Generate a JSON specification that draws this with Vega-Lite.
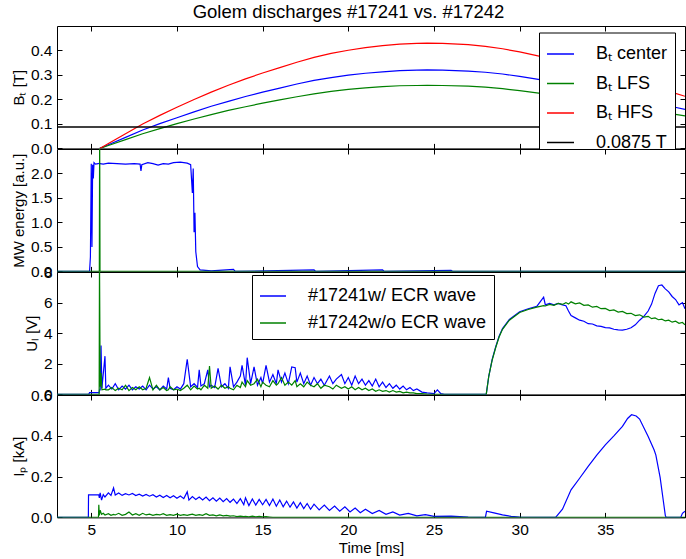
{
"$schema": "https://vega.github.io/schema/vega-lite/v6.json",
"autosize": {"type": "pad"},
"padding": {"left": 10, "top": 3, "right": 0, "bottom": 0},
"background": "white",
"title": {"text": "Golem discharges #17241 vs. #17242", "font": "Liberation Sans", "fontSize": 18.5, "fontWeight": "normal", "color": "black", "anchor": "middle", "offset": 3.5},
"spacing": 0,
"bounds": "flush",
"config": {
  "font": "Liberation Sans",
  "view": {"stroke": "black", "strokeWidth": 1, "fill": "white"},
  "axis": {"grid": false, "domain": false, "ticks": true, "tickSize": -5, "tickColor": "black", "tickWidth": 1, "labelPadding": 10, "labelFont": "Liberation Sans", "labelFontSize": 15.5, "labelColor": "black", "titleFont": "Liberation Sans", "titleFontSize": 15, "titleFontWeight": "normal", "titleColor": "black", "labelFlush": false, "labelOverlap": false, "titlePadding": 4},
  "legend": {"orient": "none", "title": null, "symbolType": "stroke", "symbolStrokeWidth": 1.5, "labelFont": "Liberation Sans", "labelFontSize": 18, "labelColor": "black", "labelOffset": 21, "labelLimit": 400, "padding": 7, "strokeColor": "black", "fillColor": "white", "cornerRadius": 0}
},
"datasets": {
  "ghost": [{"t": 5, "v": 0}],
  "ref": [{"t": 3, "v": 0.0875, "s": "r"}, {"t": 39.65, "v": 0.0875, "s": "r"}],
  "bt": [
    {"t":5.5,"c":0,"l":0,"h":0},
    {"t":6,"c":0.015,"l":0.012,"h":0.02},
    {"t":7,"c":0.045,"l":0.036,"h":0.06},
    {"t":8,"c":0.075,"l":0.06,"h":0.10},
    {"t":9,"c":0.101,"l":0.081,"h":0.135},
    {"t":10,"c":0.125,"l":0.101,"h":0.168},
    {"t":11,"c":0.149,"l":0.12,"h":0.2},
    {"t":12,"c":0.172,"l":0.138,"h":0.23},
    {"t":13,"c":0.192,"l":0.155,"h":0.258},
    {"t":14,"c":0.212,"l":0.17,"h":0.284},
    {"t":15,"c":0.23,"l":0.185,"h":0.308},
    {"t":16,"c":0.246,"l":0.198,"h":0.33},
    {"t":17,"c":0.263,"l":0.211,"h":0.352},
    {"t":18,"c":0.278,"l":0.223,"h":0.372},
    {"t":19,"c":0.289,"l":0.233,"h":0.388},
    {"t":20,"c":0.299,"l":0.241,"h":0.401},
    {"t":21,"c":0.307,"l":0.247,"h":0.412},
    {"t":22,"c":0.313,"l":0.252,"h":0.42},
    {"t":23,"c":0.318,"l":0.256,"h":0.426},
    {"t":24,"c":0.32,"l":0.257,"h":0.429},
    {"t":24.6,"c":0.321,"l":0.258,"h":0.43},
    {"t":25.5,"c":0.32,"l":0.257,"h":0.429},
    {"t":27,"c":0.316,"l":0.254,"h":0.424},
    {"t":28,"c":0.311,"l":0.25,"h":0.417},
    {"t":29,"c":0.304,"l":0.244,"h":0.407},
    {"t":30,"c":0.294,"l":0.236,"h":0.394},
    {"t":31,"c":0.283,"l":0.227,"h":0.379},
    {"t":32,"c":0.271,"l":0.218,"h":0.363},
    {"t":33,"c":0.258,"l":0.208,"h":0.346},
    {"t":34,"c":0.245,"l":0.197,"h":0.328},
    {"t":35,"c":0.231,"l":0.186,"h":0.309},
    {"t":36,"c":0.216,"l":0.174,"h":0.289},
    {"t":37,"c":0.201,"l":0.163,"h":0.269},
    {"t":38,"c":0.185,"l":0.152,"h":0.248},
    {"t":39,"c":0.169,"l":0.14,"h":0.227},
    {"t":39.65,"c":0.159,"l":0.133,"h":0.213}
  ],
  "mw": [
    {"t":3,"b":0,"g":0},{"t":4.9,"b":0,"g":0},{"t":4.95,"b":0.3,"g":0},{"t":5.0,"b":2.2,"g":0},{"t":5.04,"b":0.5,"g":0},
    {"t":5.08,"b":2.18,"g":0},{"t":5.12,"b":1.9,"g":0},{"t":5.16,"b":2.22,"g":0},{"t":5.25,"b":2.19,"g":0},{"t":5.4,"b":2.2,"g":0},
    {"t":5.47,"b":2.21,"g":0},{"t":5.49,"b":2.2,"g":3.0},{"t":5.51,"b":2.2,"g":0},{"t":5.7,"b":2.19,"g":0},{"t":6.0,"b":2.21,"g":0},
    {"t":6.5,"b":2.2,"g":0},{"t":7.0,"b":2.19,"g":0},{"t":7.5,"b":2.2,"g":0},{"t":7.85,"b":2.19,"g":0},{"t":7.9,"b":2.05,"g":0},
    {"t":7.95,"b":2.18,"g":0},{"t":8.3,"b":2.22,"g":0},{"t":8.6,"b":2.2,"g":0},{"t":8.9,"b":2.17,"g":0},{"t":9.2,"b":2.2,"g":0},
    {"t":9.5,"b":2.19,"g":0},{"t":9.8,"b":2.22,"g":0},{"t":10.2,"b":2.23,"g":0},{"t":10.6,"b":2.21,"g":0},{"t":10.8,"b":2.18,"g":0},
    {"t":10.9,"b":1.6,"g":0},{"t":10.95,"b":2.1,"g":0},{"t":11.0,"b":0.8,"g":0},{"t":11.05,"b":1.2,"g":0},{"t":11.1,"b":0.4,"g":0},
    {"t":11.2,"b":0.1,"g":0},{"t":11.35,"b":0.03,"g":0},{"t":12,"b":0.01,"g":0},{"t":13.3,"b":0.04,"g":0},{"t":13.4,"b":0.0,"g":0},
    {"t":18,"b":0.03,"g":0},{"t":18.1,"b":0.0,"g":0},{"t":22,"b":0.03,"g":0},{"t":22.1,"b":0.0,"g":0},{"t":26,"b":0.02,"g":0},
    {"t":26.1,"b":0.0,"g":0},{"t":39.65,"b":0,"g":0}
  ],
  "ul": [
    {"t":3,"b":0,"g":0},{"t":4.85,"b":0,"g":0},{"t":4.9,"b":0.12,"g":0},{"t":5.46,"b":0.12,"g":0},{"t":5.48,"b":0.3,"g":9},
    {"t":5.52,"b":0.3,"g":0.5},{"t":5.57,"b":3.2,"g":1.4},{"t":5.62,"b":0.4,"g":0.3},{"t":5.8,"b":2.5,"g":0.35},{"t":5.85,"b":0.4,"g":0.3},
    {"t":6.0,"b":0.6,"g":0.3},{"t":6.2,"b":0.35,"g":0.45},{"t":6.4,"b":0.7,"g":0.25},{"t":6.6,"b":0.3,"g":0.4},{"t":6.8,"b":0.55,"g":0.3},
    {"t":7.0,"b":0.35,"g":0.6},{"t":7.2,"b":0.6,"g":0.25},{"t":7.4,"b":0.3,"g":0.45},{"t":7.6,"b":0.5,"g":0.3},{"t":7.8,"b":0.35,"g":0.5},
    {"t":8.0,"b":0.55,"g":0.3},{"t":8.2,"b":0.3,"g":0.4},{"t":8.4,"b":0.6,"g":1.1},{"t":8.6,"b":0.35,"g":0.3},{"t":8.8,"b":0.5,"g":0.6},
    {"t":9.0,"b":0.3,"g":0.3},{"t":9.2,"b":0.55,"g":0.45},{"t":9.4,"b":0.35,"g":0.25},{"t":9.5,"b":1.1,"g":0.3},{"t":9.6,"b":0.4,"g":0.5},
    {"t":9.8,"b":0.3,"g":0.3},{"t":10.0,"b":0.5,"g":0.35},{"t":10.2,"b":0.35,"g":0.25},{"t":10.4,"b":0.7,"g":0.4},{"t":10.6,"b":2.3,"g":0.6},
    {"t":10.8,"b":0.5,"g":0.3},{"t":11.0,"b":0.7,"g":0.55},{"t":11.2,"b":0.45,"g":0.35},{"t":11.3,"b":1.6,"g":0.4},{"t":11.4,"b":0.55,"g":0.3},
    {"t":11.6,"b":0.7,"g":0.6},{"t":11.8,"b":1.6,"g":0.4},{"t":11.9,"b":0.5,"g":1.85},{"t":12.0,"b":0.6,"g":0.4},{"t":12.2,"b":0.45,"g":0.55},
    {"t":12.4,"b":1.7,"g":0.35},{"t":12.6,"b":0.5,"g":0.6},{"t":12.8,"b":0.7,"g":0.4},{"t":13.0,"b":0.4,"g":0.5},{"t":13.1,"b":1.8,"g":0.4},
    {"t":13.3,"b":0.5,"g":0.3},{"t":13.5,"b":0.8,"g":0.6},{"t":13.7,"b":1.2,"g":0.45},{"t":13.8,"b":1.9,"g":0.8},{"t":14.0,"b":0.6,"g":0.5},
    {"t":14.1,"b":2.4,"g":0.9},{"t":14.3,"b":0.7,"g":0.6},{"t":14.5,"b":1.8,"g":0.7},{"t":14.7,"b":0.6,"g":1.0},{"t":14.9,"b":1.1,"g":0.5},
    {"t":15.0,"b":0.7,"g":0.8},{"t":15.2,"b":1.9,"g":0.6},{"t":15.4,"b":0.8,"g":0.5},{"t":15.6,"b":1.3,"g":0.9},{"t":15.8,"b":0.7,"g":0.6},
    {"t":15.9,"b":1.6,"g":0.7},{"t":16.1,"b":0.8,"g":1.1},{"t":16.3,"b":1.4,"g":0.6},{"t":16.5,"b":0.7,"g":0.8},{"t":16.7,"b":1.8,"g":0.6},
    {"t":16.9,"b":1.75,"g":0.9},{"t":17.0,"b":0.8,"g":0.5},{"t":17.2,"b":1.4,"g":0.7},{"t":17.4,"b":0.7,"g":0.5},{"t":17.6,"b":1.2,"g":0.8},
    {"t":17.8,"b":0.6,"g":0.6},{"t":18.0,"b":1.1,"g":0.5},{"t":18.2,"b":0.7,"g":0.7},{"t":18.4,"b":1.0,"g":0.4},{"t":18.6,"b":0.6,"g":0.6},
    {"t":18.9,"b":1.2,"g":0.5},{"t":19.1,"b":0.7,"g":0.35},{"t":19.3,"b":1.0,"g":0.6},{"t":19.6,"b":1.3,"g":0.4},{"t":19.8,"b":0.7,"g":0.5},
    {"t":20.0,"b":1.1,"g":0.35},{"t":20.2,"b":0.6,"g":0.5},{"t":20.4,"b":1.2,"g":0.3},{"t":20.6,"b":0.7,"g":0.45},{"t":20.8,"b":1.0,"g":0.3},
    {"t":21.0,"b":0.6,"g":0.4},{"t":21.2,"b":0.9,"g":0.25},{"t":21.4,"b":0.55,"g":0.35},{"t":21.6,"b":1.0,"g":0.2},{"t":21.8,"b":0.5,"g":0.3},
    {"t":22.0,"b":0.8,"g":0.2},{"t":22.2,"b":0.45,"g":0.25},{"t":22.4,"b":0.7,"g":0.15},{"t":22.6,"b":0.4,"g":0.25},{"t":22.8,"b":0.6,"g":0.15},
    {"t":23.0,"b":0.35,"g":0.2},{"t":23.2,"b":0.55,"g":0.1},{"t":23.4,"b":0.3,"g":0.15},{"t":23.6,"b":0.45,"g":0.1},{"t":23.8,"b":0.25,"g":0.1},
    {"t":24.0,"b":0.35,"g":0.05},{"t":24.3,"b":0.15,"g":0.05},{"t":24.6,"b":0.1,"g":0.02},{"t":25.0,"b":0.05,"g":0},{"t":25.2,"b":0.3,"g":0},
    {"t":25.4,"b":0.05,"g":0},{"t":25.6,"b":0,"g":0},{"t":28.05,"b":0,"g":0},
    {"t":28.2,"b":1.2,"g":1.2},{"t":28.4,"b":2.3,"g":2.25},{"t":28.6,"b":3.1,"g":3.05},{"t":28.8,"b":3.8,"g":3.75},{"t":29.0,"b":4.3,"g":4.25},
    {"t":29.4,"b":4.9,"g":4.85},{"t":30.0,"b":5.4,"g":5.35},{"t":30.5,"b":5.6,"g":5.55},{"t":31.0,"b":5.75,"g":5.7},{"t":31.4,"b":6.35,"g":5.8},
    {"t":31.5,"b":5.85,"g":5.78},{"t":31.75,"b":5.95,"g":5.88},{"t":32.0,"b":5.85,"g":5.82},{"t":32.25,"b":5.95,"g":5.95},{"t":32.5,"b":5.85,"g":5.88},
    {"t":32.7,"b":5.8,"g":6.0},{"t":32.85,"b":5.45,"g":5.9},{"t":33.0,"b":5.15,"g":6.05},{"t":33.25,"b":5.0,"g":5.92},{"t":33.5,"b":4.85,"g":5.98},
    {"t":33.75,"b":4.78,"g":5.82},{"t":34.0,"b":4.62,"g":5.85},{"t":34.25,"b":4.6,"g":5.7},{"t":34.5,"b":4.48,"g":5.75},{"t":34.75,"b":4.45,"g":5.6},
    {"t":35.0,"b":4.36,"g":5.62},{"t":35.25,"b":4.35,"g":5.48},{"t":35.5,"b":4.26,"g":5.52},{"t":35.75,"b":4.22,"g":5.38},{"t":36.0,"b":4.2,"g":5.42},
    {"t":36.25,"b":4.26,"g":5.28},{"t":36.5,"b":4.36,"g":5.3},{"t":36.75,"b":4.55,"g":5.15},{"t":37.0,"b":4.85,"g":5.2},{"t":37.25,"b":5.1,"g":5.05},
    {"t":37.5,"b":5.45,"g":5.1},{"t":37.7,"b":5.9,"g":4.95},{"t":37.9,"b":6.6,"g":5.0},{"t":38.1,"b":7.1,"g":4.88},{"t":38.3,"b":7.15,"g":4.92},
    {"t":38.5,"b":6.9,"g":4.8},{"t":38.7,"b":6.7,"g":4.85},{"t":38.9,"b":6.4,"g":4.72},{"t":39.1,"b":6.2,"g":4.78},{"t":39.3,"b":5.85,"g":4.65},
    {"t":39.5,"b":6.0,"g":4.7},{"t":39.65,"b":5.6,"g":4.55}
  ],
  "ip": [
    {"t":3,"b":0,"g":0},{"t":4.83,"b":0,"g":0},{"t":4.84,"b":0.11,"g":0},{"t":5.42,"b":0.11,"g":0},{"t":5.44,"b":0.11,"g":0.062},
    {"t":5.47,"b":0.095,"g":0.01},{"t":5.52,"b":0.12,"g":0.035},{"t":5.6,"b":0.085,"g":0.015},{"t":5.7,"b":0.112,"g":0.02},{"t":5.8,"b":0.1,"g":0.012},
    {"t":6.0,"b":0.12,"g":0.018},{"t":6.15,"b":0.108,"g":0.01},{"t":6.3,"b":0.145,"g":0.015},{"t":6.4,"b":0.11,"g":0.012},{"t":6.6,"b":0.12,"g":0.02},
    {"t":6.8,"b":0.108,"g":0.01},{"t":7.0,"b":0.116,"g":0.015},{"t":7.2,"b":0.11,"g":0.026},{"t":7.4,"b":0.117,"g":0.012},{"t":7.6,"b":0.107,"g":0.018},
    {"t":7.8,"b":0.114,"g":0.01},{"t":8.0,"b":0.105,"g":0.02},{"t":8.2,"b":0.113,"g":0.012},{"t":8.4,"b":0.104,"g":0.016},{"t":8.6,"b":0.111,"g":0.01},
    {"t":8.8,"b":0.1,"g":0.015},{"t":9.0,"b":0.109,"g":0.012},{"t":9.2,"b":0.097,"g":0.018},{"t":9.4,"b":0.107,"g":0.01},{"t":9.6,"b":0.096,"g":0.014},
    {"t":9.8,"b":0.106,"g":0.01},{"t":10.0,"b":0.094,"g":0.016},{"t":10.2,"b":0.105,"g":0.01},{"t":10.4,"b":0.092,"g":0.014},{"t":10.6,"b":0.125,"g":0.01},
    {"t":10.7,"b":0.085,"g":0.012},{"t":10.9,"b":0.102,"g":0.016},{"t":11.1,"b":0.088,"g":0.01},{"t":11.3,"b":0.1,"g":0.014},{"t":11.5,"b":0.085,"g":0.01},
    {"t":11.7,"b":0.1,"g":0.018},{"t":11.9,"b":0.082,"g":0.01},{"t":12.1,"b":0.096,"g":0.012},{"t":12.3,"b":0.079,"g":0.008},{"t":12.5,"b":0.095,"g":0.012},
    {"t":12.7,"b":0.077,"g":0.008},{"t":12.9,"b":0.092,"g":0.01},{"t":13.1,"b":0.074,"g":0.006},{"t":13.3,"b":0.09,"g":0.008},{"t":13.5,"b":0.068,"g":0.004},
    {"t":13.7,"b":0.092,"g":0.006},{"t":13.9,"b":0.062,"g":0.004},{"t":14.0,"b":0.096,"g":0.005},{"t":14.2,"b":0.058,"g":0.003},{"t":14.4,"b":0.09,"g":0.006},
    {"t":14.6,"b":0.06,"g":0.003},{"t":14.8,"b":0.088,"g":0.005},{"t":15.0,"b":0.062,"g":0.003},{"t":15.2,"b":0.088,"g":0.004},{"t":15.4,"b":0.058,"g":0.002},
    {"t":15.6,"b":0.09,"g":0},{"t":15.8,"b":0.055,"g":0},{"t":16.0,"b":0.085,"g":0},{"t":16.2,"b":0.052,"g":0},{"t":16.4,"b":0.08,"g":0},
    {"t":16.6,"b":0.05,"g":0},{"t":16.8,"b":0.076,"g":0},{"t":17.0,"b":0.046,"g":0},{"t":17.2,"b":0.072,"g":0},{"t":17.4,"b":0.043,"g":0},
    {"t":17.6,"b":0.068,"g":0},{"t":17.8,"b":0.04,"g":0},{"t":18.0,"b":0.065,"g":0},{"t":18.3,"b":0.037,"g":0},{"t":18.6,"b":0.06,"g":0},
    {"t":18.9,"b":0.034,"g":0},{"t":19.2,"b":0.056,"g":0},{"t":19.5,"b":0.03,"g":0},{"t":19.8,"b":0.052,"g":0},{"t":20.1,"b":0.027,"g":0},
    {"t":20.4,"b":0.046,"g":0},{"t":20.7,"b":0.023,"g":0},{"t":21.0,"b":0.04,"g":0},{"t":21.4,"b":0.019,"g":0},{"t":21.8,"b":0.034,"g":0},
    {"t":22.2,"b":0.015,"g":0},{"t":22.6,"b":0.027,"g":0},{"t":23.0,"b":0.011,"g":0},{"t":23.5,"b":0.02,"g":0},{"t":24.0,"b":0.008,"g":0},
    {"t":24.5,"b":0.014,"g":0},{"t":25.0,"b":0.005,"g":0},{"t":26.0,"b":0.006,"g":0},{"t":27.0,"b":0.002,"g":0},{"t":28.0,"b":0,"g":0},
    {"t":28.07,"b":0.03,"g":0},{"t":28.5,"b":0.022,"g":0},{"t":29.0,"b":0.012,"g":0},{"t":29.5,"b":0.005,"g":0},{"t":30.0,"b":0.002,"g":0},
    {"t":32.1,"b":0,"g":0},{"t":32.5,"b":0.04,"g":0},{"t":33.0,"b":0.135,"g":0},{"t":33.5,"b":0.192,"g":0},{"t":34.0,"b":0.25,"g":0},
    {"t":34.5,"b":0.305,"g":0},{"t":35.0,"b":0.356,"g":0},{"t":35.5,"b":0.4,"g":0},{"t":36.0,"b":0.446,"g":0},{"t":36.3,"b":0.485,"g":0},
    {"t":36.53,"b":0.503,"g":0},{"t":36.8,"b":0.497,"g":0},{"t":37.0,"b":0.482,"g":0},{"t":37.5,"b":0.397,"g":0},{"t":37.85,"b":0.33,"g":0},
    {"t":37.95,"b":0.305,"g":0},{"t":38.2,"b":0.195,"g":0},{"t":38.4,"b":0.072,"g":0},{"t":38.5,"b":0.01,"g":0},{"t":38.55,"b":0,"g":0},
    {"t":39.4,"b":0,"g":0},{"t":39.5,"b":0.02,"g":0},{"t":39.65,"b":0.03,"g":0}
  ]
},
"vconcat": [
  {
    "width": 628, "height": 122.4,
    "layer": [
      {
        "data": {"name": "bt"},
        "transform": [{"fold": ["c", "l", "h"], "as": ["s", "v"]}],
        "mark": {"type": "line", "strokeWidth": 1.2, "clip": true},
        "encoding": {
          "x": {"field": "t", "type": "quantitative", "scale": {"domain": [3, 39.65], "nice": false, "zero": false}, "axis": {"orient": "bottom", "values": [5, 10, 15, 20, 25, 30, 35], "labels": false, "title": null}},
          "y": {"field": "v", "type": "quantitative", "scale": {"domain": [0, 0.5], "nice": false}, "axis": {"orient": "left", "values": [0, 0.1, 0.2, 0.3, 0.4], "format": ".1f", "title": "Bₜ [T]"}},
          "color": {"field": "s", "type": "nominal", "sort": null, "scale": {"domain": ["c", "l", "h", "r"], "range": ["#0000ff", "#008000", "#ff0000", "#000000"]},
            "legend": {"legendX": 482, "legendY": 6.5, "symbolSize": 729, "rowPadding": 5.5,
              "labelExpr": "datum.label == 'c' ? 'Bₜ center' : datum.label == 'l' ? 'Bₜ LFS' : datum.label == 'h' ? 'Bₜ HFS' : '0.0875 T'"}}
        }
      },
      {
        "data": {"name": "ref"},
        "mark": {"type": "line", "strokeWidth": 1.5, "clip": true},
        "encoding": {
          "x": {"field": "t", "type": "quantitative", "axis": null},
          "y": {"field": "v", "type": "quantitative", "axis": null},
          "color": {"field": "s", "type": "nominal"}
        }
      },
      {
        "data": {"name": "ghost"},
        "mark": {"type": "point", "opacity": 0},
        "encoding": {
          "x": {"field": "t", "type": "quantitative", "scale": {"domain": [3, 39.65], "nice": false, "zero": false}, "axis": {"orient": "top", "values": [5, 10, 15, 20, 25, 30, 35], "labels": false, "title": null}},
          "y": {"field": "v", "type": "quantitative", "scale": {"domain": [0, 0.5], "nice": false}, "axis": {"orient": "right", "values": [0, 0.1, 0.2, 0.3, 0.4], "labels": false, "title": null, "minExtent": 0}}
        }
      }
    ],
    "resolve": {"axis": {"x": "independent", "y": "independent"}}
  },
  {
    "width": 628, "height": 122.4,
    "layer": [
      {
        "data": {"name": "mw"},
        "transform": [{"fold": ["b", "g"], "as": ["s", "v"]}],
        "mark": {"type": "line", "strokeWidth": 1.2, "clip": true},
        "encoding": {
          "x": {"field": "t", "type": "quantitative", "scale": {"domain": [3, 39.65], "nice": false, "zero": false}, "axis": {"orient": "bottom", "values": [5, 10, 15, 20, 25, 30, 35], "labels": false, "title": null}},
          "y": {"field": "v", "type": "quantitative", "scale": {"domain": [0, 2.5], "nice": false}, "axis": {"orient": "left", "values": [0, 0.5, 1, 1.5, 2], "format": ".1f", "title": "MW energy [a.u.]"}},
          "color": {"field": "s", "type": "nominal", "sort": null, "scale": {"domain": ["b", "g"], "range": ["#0000ff", "#008000"]}, "legend": null}
        }
      },
      {
        "data": {"name": "ghost"},
        "mark": {"type": "point", "opacity": 0},
        "encoding": {
          "x": {"field": "t", "type": "quantitative", "scale": {"domain": [3, 39.65], "nice": false, "zero": false}, "axis": {"orient": "top", "values": [5, 10, 15, 20, 25, 30, 35], "labels": false, "title": null}},
          "y": {"field": "v", "type": "quantitative", "scale": {"domain": [0, 2.5], "nice": false}, "axis": {"orient": "right", "values": [0, 0.5, 1, 1.5, 2], "labels": false, "title": null, "minExtent": 0}}
        }
      }
    ],
    "resolve": {"axis": {"x": "independent", "y": "independent"}}
  },
  {
    "width": 628, "height": 122.4,
    "layer": [
      {
        "data": {"name": "ul"},
        "transform": [{"fold": ["b", "g"], "as": ["s", "v"]}],
        "mark": {"type": "line", "strokeWidth": 1.2, "clip": true},
        "encoding": {
          "x": {"field": "t", "type": "quantitative", "scale": {"domain": [3, 39.65], "nice": false, "zero": false}, "axis": {"orient": "bottom", "values": [5, 10, 15, 20, 25, 30, 35], "labels": false, "title": null}},
          "y": {"field": "v", "type": "quantitative", "scale": {"domain": [0, 8], "nice": false}, "axis": {"orient": "left", "values": [0, 2, 4, 6, 8], "format": "d", "title": "Uₗ [V]"}},
          "color": {"field": "s", "type": "nominal", "sort": null, "scale": {"domain": ["b", "g"], "range": ["#0000ff", "#008000"]},
            "legend": {"legendX": 195, "legendY": 3, "symbolSize": 676, "rowPadding": 4,
              "labelExpr": "datum.label == 'b' ? '#17241w/ ECR wave' : '#17242w/o ECR wave'"}}
        }
      },
      {
        "data": {"name": "ghost"},
        "mark": {"type": "point", "opacity": 0},
        "encoding": {
          "x": {"field": "t", "type": "quantitative", "scale": {"domain": [3, 39.65], "nice": false, "zero": false}, "axis": {"orient": "top", "values": [5, 10, 15, 20, 25, 30, 35], "labels": false, "title": null}},
          "y": {"field": "v", "type": "quantitative", "scale": {"domain": [0, 8], "nice": false}, "axis": {"orient": "right", "values": [0, 2, 4, 6, 8], "labels": false, "title": null, "minExtent": 0}}
        }
      }
    ],
    "resolve": {"axis": {"x": "independent", "y": "independent"}}
  },
  {
    "width": 628, "height": 122.4,
    "layer": [
      {
        "data": {"name": "ip"},
        "transform": [{"fold": ["b", "g"], "as": ["s", "v"]}],
        "mark": {"type": "line", "strokeWidth": 1.2, "clip": true},
        "encoding": {
          "x": {"field": "t", "type": "quantitative", "scale": {"domain": [3, 39.65], "nice": false, "zero": false}, "axis": {"orient": "bottom", "values": [5, 10, 15, 20, 25, 30, 35], "format": "d", "title": "Time [ms]", "titlePadding": 3}},
          "y": {"field": "v", "type": "quantitative", "scale": {"domain": [0, 0.6], "nice": false}, "axis": {"orient": "left", "values": [0, 0.2, 0.4, 0.6], "format": ".1f", "title": "Iₚ [kA]"}},
          "color": {"field": "s", "type": "nominal", "sort": null, "scale": {"domain": ["b", "g"], "range": ["#0000ff", "#008000"]}, "legend": null}
        }
      },
      {
        "data": {"name": "ghost"},
        "mark": {"type": "point", "opacity": 0},
        "encoding": {
          "x": {"field": "t", "type": "quantitative", "scale": {"domain": [3, 39.65], "nice": false, "zero": false}, "axis": {"orient": "top", "values": [5, 10, 15, 20, 25, 30, 35], "labels": false, "title": null}},
          "y": {"field": "v", "type": "quantitative", "scale": {"domain": [0, 0.6], "nice": false}, "axis": {"orient": "right", "values": [0, 0.2, 0.4, 0.6], "labels": false, "title": null, "minExtent": 0}}
        }
      }
    ],
    "resolve": {"axis": {"x": "independent", "y": "independent"}}
  }
],
"resolve": {"scale": {"color": "independent"}, "legend": {"color": "independent"}}
}
